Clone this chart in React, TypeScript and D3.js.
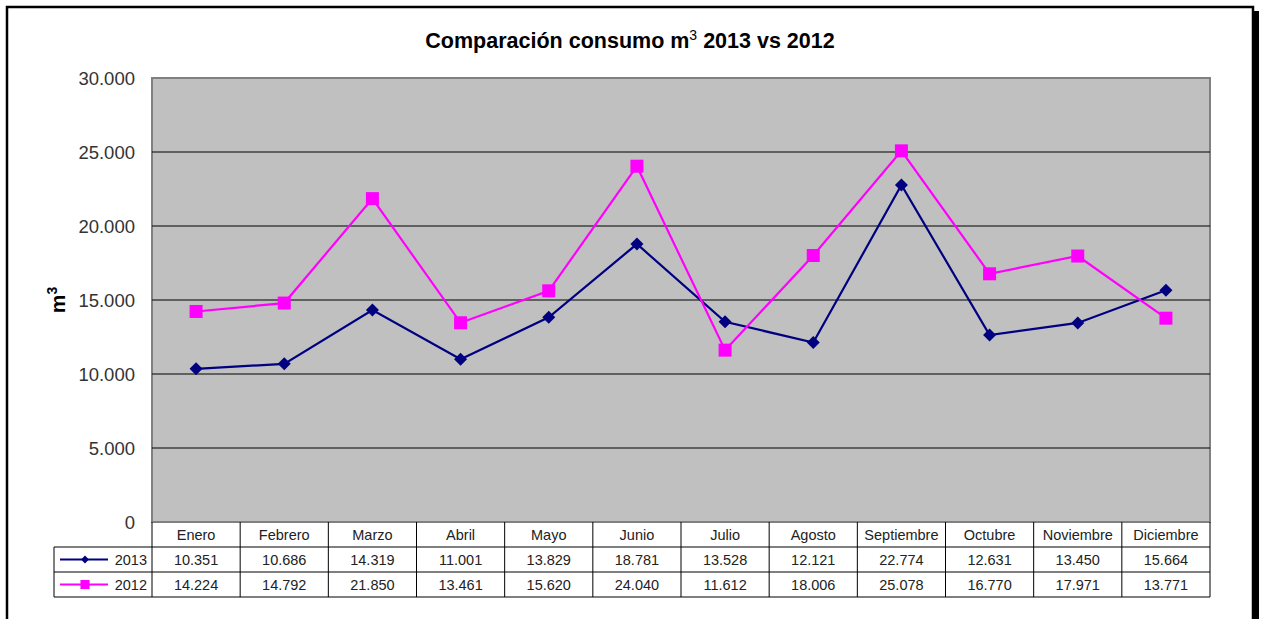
import React from "react";
import * as d3 from "d3";

const months = ["Enero","Febrero","Marzo","Abril","Mayo","Junio","Julio","Agosto","Septiembre","Octubre","Noviembre","Diciembre"];
const values2013 = [10351,10686,14319,11001,13829,18781,13528,12121,22774,12631,13450,15664];
const values2012 = [14224,14792,21850,13461,15620,24040,11612,18006,25078,16770,17971,13771];
const yTicks = [0,5000,10000,15000,20000,25000,30000];

const W = 1262, H = 619;
const plot = { left: 152, right: 1210, top: 78, bottom: 522 };
const rowH = 25;

const fmt = (v: number) => {
  if (v === 0) return "0";
  const s = String(Math.round(v));
  return s.replace(/\B(?=(\d{3})+(?!\d))/g, ".");
};

export default function App() {
  const x = d3.scaleBand<string>().domain(months).range([plot.left, plot.right]).paddingInner(0).paddingOuter(0);
  const y = d3.scaleLinear().domain([0, 30000]).range([plot.bottom, plot.top]);
  const cx = (m: string) => (x(m) as number) + x.bandwidth() / 2;
  const line = d3.line<number>().x((_, i) => cx(months[i])).y((d) => y(d));

  const series = [
    { name: "2013", vals: values2013, color: "#000080", marker: "diamond" },
    { name: "2012", vals: values2012, color: "#FF00FF", marker: "square" },
  ];

  const marker = (kind: string, px: number, py: number, color: string, key: string, scale = 1) =>
    kind === "diamond" ? (
      <path key={key} d={`M${px},${py - 6.5 * scale}L${px + 6.5 * scale},${py}L${px},${py + 6.5 * scale}L${px - 6.5 * scale},${py}Z`} fill={color} />
    ) : (
      <rect key={key} x={px - 6.5 * scale} y={py - 6.5 * scale} width={13 * scale} height={13 * scale} fill={color} />
    );

  const tableTop = plot.bottom;
  const legendLeft = 54;
  const font = "Arial, 'Liberation Sans', sans-serif";

  return (
    <svg width={W} height={H} style={{ position: "absolute", left: 0, top: 0, background: "#fff" }} fontFamily={font}>
      {/* frame shadow */}
      <rect x={1252} y={11} width={7} height={H} fill="#000" />
      <rect x={7} y={7} width={1246} height={H + 20} fill="#fff" stroke="#000" strokeWidth={2.5} />

      {/* title */}
      <text x={630} y={48} textAnchor="middle" fontSize={21.5} fontWeight="bold" fill="#000">
        Comparación consumo m<tspan fontSize={14} fontWeight="normal" dy={-8}>3</tspan>
        <tspan dy={8}> 2013 vs 2012</tspan>
      </text>

      {/* plot area */}
      <rect x={plot.left} y={plot.top} width={plot.right - plot.left} height={plot.bottom - plot.top} fill="#C0C0C0" stroke="#808080" strokeWidth={2} />
      {yTicks.filter((t) => t > 0 && t < 30000).map((t) => (
        <line key={t} x1={plot.left} x2={plot.right} y1={y(t)} y2={y(t)} stroke="#000" strokeWidth={1} />
      ))}

      {/* y labels */}
      {yTicks.map((t) => (
        <text key={t} x={135} y={y(t) + 6.5} textAnchor="end" fontSize={18.5} fill="#333">{fmt(t)}</text>
      ))}

      {/* y axis title */}
      <text transform="translate(65,300) rotate(-90)" textAnchor="middle" fontSize={21} fontWeight="bold" fill="#000">
        m<tspan fontSize={14} dy={-8}>3</tspan>
      </text>

      {/* lines */}
      {series.map((s) => (
        <g key={s.name}>
          <path d={line(s.vals) as string} fill="none" stroke={s.color} strokeWidth={2.2} />
          {s.vals.map((v, i) => marker(s.marker, cx(months[i]), y(v), s.color, s.name + i))}
        </g>
      ))}

      {/* data table */}
      <g stroke="#000" strokeWidth={1}>
        <line x1={legendLeft} x2={plot.right} y1={tableTop + rowH} y2={tableTop + rowH} />
        <line x1={legendLeft} x2={plot.right} y1={tableTop + 2 * rowH} y2={tableTop + 2 * rowH} />
        <line x1={legendLeft} x2={plot.right} y1={tableTop + 3 * rowH} y2={tableTop + 3 * rowH} />
        <line x1={legendLeft} x2={legendLeft} y1={tableTop + rowH} y2={tableTop + 3 * rowH} />
        {months.map((m) => (
          <line key={m} x1={x(m) as number} x2={x(m) as number} y1={tableTop} y2={tableTop + 3 * rowH} />
        ))}
        <line x1={plot.right} x2={plot.right} y1={tableTop} y2={tableTop + 3 * rowH} />
      </g>
      {months.map((m) => (
        <text key={m} x={cx(m)} y={tableTop + 18} textAnchor="middle" fontSize={14.5} fill="#222">{m}</text>
      ))}
      {series.map((s, r) => (
        <g key={s.name}>
          <line x1={60} x2={108} y1={tableTop + rowH * (r + 1.5)} y2={tableTop + rowH * (r + 1.5)} stroke={s.color} strokeWidth={2} />
          {marker(s.marker, 85, tableTop + rowH * (r + 1.5), s.color, "lg" + s.name, s.marker === "diamond" ? 0.6 : 0.7)}
          <text x={147} y={tableTop + rowH * (r + 1) + 18} textAnchor="end" fontSize={14.5} fill="#222">{s.name}</text>
          {s.vals.map((v, i) => (
            <text key={i} x={cx(months[i])} y={tableTop + rowH * (r + 1) + 18} textAnchor="middle" fontSize={14.5} fill="#222">{fmt(v)}</text>
          ))}
        </g>
      ))}
    </svg>
  );
}
